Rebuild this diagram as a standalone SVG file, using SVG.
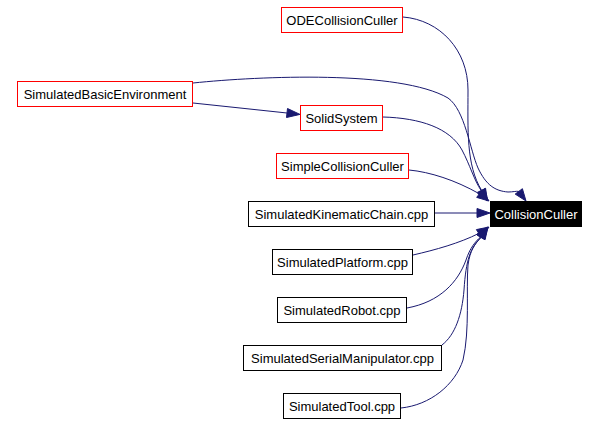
<svg xmlns="http://www.w3.org/2000/svg" width="600" height="424" viewBox="0 0 600 424">
<style>
.bg{fill:#ffffff}
.box{fill:#ffffff;stroke:#000000;stroke-width:1}
.red{stroke:#ff0000}
.cur{fill:#000000;stroke:#000000}
.t{font-family:"Liberation Sans",Arial,sans-serif;font-size:13px;fill:#000000;text-anchor:middle}
.tw{fill:#ffffff}
.e{fill:none;stroke:#191970;stroke-width:1}
.ah{fill:#191970;stroke:#191970;stroke-width:1}
</style>
<rect class="bg" x="0" y="0" width="600" height="424"/>
<g id="connectors">
<path class="e" d="M403,17 C440,20 468,50 468,90 C468,130 466,165 481.6,190.3"/>
<polygon class="ah" points="487,201 485.6,188.3 477.6,192.3"/>
<path class="e" d="M193,83 C260,76 400,70 448,98 C465,110 470,150 478,168 C486,185 495,191 508,192 C513,192 516,191 518.8,191.4"/>
<polygon class="ah" points="526,201 522.4,188.7 515.2,194.1"/>
<path class="e" d="M193,103 L287,113"/>
<polygon class="ah" points="300,114.4 287.5,108.5 286.5,117.5"/>
<path class="e" d="M383,117 C420,118 450,128 462,150 C470,165 474,180 481.4,191"/>
<polygon class="ah" points="488,201 485.1,188.5 477.7,193.5"/>
<path class="e" d="M409,170 C430,172 455,180 479.4,193.8"/>
<polygon class="ah" points="489,201 482.1,190.2 476.7,197.4"/>
<path class="e" d="M435,213 L477,213"/>
<polygon class="ah" points="490,213 477,208.5 477,217.5"/>
<path class="e" d="M413,255 C435,250 460,243 478.8,233.4"/>
<polygon class="ah" points="489,227 481.2,237.2 476.4,229.6"/>
<path class="e" d="M407,308 C440,302 458,282 466,260 C470,248 475,242 480.8,236.6"/>
<polygon class="ah" points="488,227 484.4,239.3 477.2,233.9"/>
<path class="e" d="M442,345 C455,335 462,315 464,290 C466,260 470,248 481.4,237"/>
<polygon class="ah" points="488,227 485.1,239.5 477.7,234.5"/>
<path class="e" d="M401,408 C430,405 455,385 463,360 C470,330 466,290 468,265 C470,250 475,244 481,237.4"/>
<polygon class="ah" points="487,227 484.9,239.7 477.1,235.2"/>
</g>
<g id="ODECollisionCuller"><rect class="box red" x="281.5" y="7.5" width="121" height="25"/><text class="t" x="342" y="24.5">ODECollisionCuller</text></g>
<g id="SimulatedBasicEnvironment"><rect class="box red" x="17.5" y="81.5" width="175" height="25"/><text class="t" x="105" y="98.5">SimulatedBasicEnvironment</text></g>
<g id="SolidSystem"><rect class="box red" x="300.5" y="105.5" width="82" height="25"/><text class="t" x="341.5" y="122.5">SolidSystem</text></g>
<g id="SimpleCollisionCuller"><rect class="box red" x="276.5" y="153.5" width="132" height="25"/><text class="t" x="342.5" y="170.5">SimpleCollisionCuller</text></g>
<g id="SimulatedKinematicChain"><rect class="box" x="248.5" y="201.5" width="186" height="25"/><text class="t" x="341.5" y="218.5">SimulatedKinematicChain.cpp</text></g>
<g id="CollisionCuller"><rect class="cur" x="490.5" y="201.5" width="91" height="25"/><text class="t tw" x="536" y="218.5">CollisionCuller</text></g>
<g id="SimulatedPlatform"><rect class="box" x="272.5" y="249.5" width="140" height="25"/><text class="t" x="342.5" y="266.5">SimulatedPlatform.cpp</text></g>
<g id="SimulatedRobot"><rect class="box" x="277.5" y="297.5" width="129" height="25"/><text class="t" x="342" y="314.5">SimulatedRobot.cpp</text></g>
<g id="SimulatedSerialManipulator"><rect class="box" x="243.5" y="345.5" width="198" height="25"/><text class="t" x="342.5" y="362.5">SimulatedSerialManipulator.cpp</text></g>
<g id="SimulatedTool"><rect class="box" x="283.5" y="393.5" width="117" height="25"/><text class="t" x="342" y="410.5">SimulatedTool.cpp</text></g>
</svg>
